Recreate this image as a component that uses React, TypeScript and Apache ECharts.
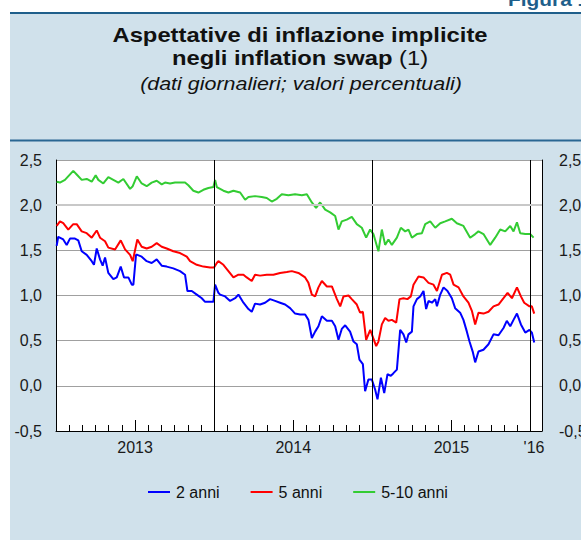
import React, { useEffect, useRef } from "react";
import * as echarts from "echarts";

// x = months elapsed since 1 January 2013
const anni2: [number, number][] = [
  [0.05,1.55],[0.17,1.65],[0.55,1.62],[0.81,1.56],[1.06,1.63],[1.44,1.63],[1.69,1.61],[1.95,1.49],[2.33,1.45],[2.71,1.38],[2.88,1.34],[3.09,1.52],[3.34,1.40],[3.54,1.33],[3.72,1.42],[3.97,1.25],[4.35,1.18],[4.61,1.20],[4.91,1.32],[5.16,1.20],[5.49,1.20],[5.75,1.12],[5.87,1.12],[6.07,1.45],[6.17,1.45],[6.50,1.43],[6.88,1.38],[7.26,1.36],[7.64,1.40],[8.02,1.33],[8.40,1.32],[8.90,1.30],[9.41,1.27],[9.79,1.23],[9.97,1.05],[10.30,1.05],[10.68,1.01],[11.06,0.97],[11.31,0.93],[11.69,0.93],[11.94,0.93],
  [12.07,1.12],[12.32,1.03],[12.45,1.01],[12.83,0.99],[13.21,0.94],[13.59,0.97],[13.84,1.01],[14.22,0.92],[14.60,0.85],[14.85,0.82],[15.10,0.91],[15.48,0.90],[15.86,0.92],[16.24,0.96],[16.62,0.94],[17.00,0.92],[17.38,0.90],[17.76,0.86],[18.14,0.80],[18.52,0.79],[18.90,0.79],[19.15,0.73],[19.41,0.53],[19.66,0.60],[19.91,0.66],[20.17,0.77],[20.55,0.72],[20.93,0.72],[21.18,0.66],[21.43,0.51],[21.68,0.63],[21.94,0.67],[22.31,0.60],[22.57,0.49],[22.82,0.46],[23.02,0.29],[23.28,0.24],[23.45,-0.06],[23.70,0.07],[23.96,0.07],
  [24.21,-0.04],[24.39,-0.15],[24.65,0.09],[24.90,-0.08],[25.15,0.13],[25.40,0.11],[25.60,0.14],[25.86,0.18],[26.11,0.62],[26.36,0.57],[26.57,0.48],[26.74,0.57],[27.00,0.60],[27.12,0.88],[27.38,0.96],[27.63,0.99],[27.88,1.05],[28.08,0.85],[28.26,0.94],[28.52,0.92],[28.77,0.96],[28.90,0.88],[29.15,1.01],[29.40,1.09],[29.70,1.05],[30.03,0.97],[30.28,0.86],[30.66,0.81],[30.91,0.73],[31.17,0.60],[31.37,0.49],[31.63,0.37],[31.80,0.26],[32.05,0.38],[32.43,0.40],[32.81,0.46],[33.19,0.57],[33.57,0.56],[33.95,0.64],[34.20,0.72],[34.46,0.66],[34.71,0.73],[34.97,0.80],[35.27,0.68],[35.60,0.59],[35.92,0.62],[36.10,0.59],[36.28,0.48]
];

const anni5: [number, number][] = [
  [0.05,1.77],[0.30,1.82],[0.55,1.80],[0.93,1.73],[1.31,1.79],[1.57,1.79],[1.95,1.71],[2.33,1.69],[2.71,1.64],[3.09,1.72],[3.34,1.64],[3.72,1.60],[3.97,1.53],[4.48,1.51],[4.91,1.61],[5.24,1.51],[5.62,1.45],[5.82,1.38],[6.17,1.62],[6.50,1.54],[6.88,1.52],[7.26,1.54],[7.64,1.58],[8.02,1.54],[8.40,1.52],[8.90,1.49],[9.41,1.47],[9.92,1.43],[10.17,1.38],[10.68,1.34],[11.18,1.32],[11.69,1.31],[11.99,1.31],
  [12.20,1.36],[12.32,1.38],[12.70,1.34],[13.08,1.27],[13.46,1.20],[13.84,1.23],[14.22,1.23],[14.47,1.20],[14.85,1.16],[15.10,1.23],[15.48,1.22],[15.99,1.23],[16.49,1.23],[17.00,1.25],[17.51,1.26],[17.89,1.27],[18.39,1.25],[18.90,1.20],[19.15,1.14],[19.41,1.01],[19.66,0.99],[19.91,1.09],[20.17,1.16],[20.55,1.10],[20.93,1.10],[21.31,0.96],[21.56,0.88],[21.81,0.99],[22.19,1.00],[22.44,0.96],[22.82,0.90],[23.07,0.81],[23.28,0.82],[23.53,0.51],[23.84,0.62],
  [24.29,0.44],[24.46,0.49],[24.72,0.68],[24.97,0.75],[25.22,0.72],[25.48,0.73],[25.81,0.70],[26.06,0.96],[26.36,0.97],[26.66,0.96],[26.92,0.99],[27.12,1.12],[27.50,1.21],[27.88,1.20],[28.26,1.14],[28.64,1.12],[28.90,1.05],[29.28,1.23],[29.65,1.25],[29.91,1.23],[30.16,1.12],[30.54,1.09],[30.91,0.99],[31.29,0.92],[31.55,0.83],[31.80,0.68],[32.05,0.81],[32.43,0.80],[32.81,0.82],[33.19,0.88],[33.57,0.90],[33.95,0.97],[34.26,1.03],[34.59,0.97],[34.97,1.09],[35.27,0.99],[35.52,0.92],[35.92,0.88],[36.10,0.88],[36.28,0.80]
];

const anni5_10: [number, number][] = [
  [0.05,2.26],[0.30,2.25],[0.68,2.28],[1.31,2.38],[1.57,2.34],[1.95,2.28],[2.33,2.29],[2.71,2.26],[3.01,2.33],[3.21,2.28],[3.59,2.24],[3.97,2.31],[4.35,2.28],[4.73,2.25],[5.11,2.29],[5.62,2.18],[5.82,2.21],[6.13,2.32],[6.50,2.24],[6.88,2.21],[7.26,2.25],[7.64,2.27],[8.02,2.23],[8.27,2.25],[8.65,2.24],[9.03,2.25],[9.41,2.25],[9.79,2.25],[10.04,2.22],[10.42,2.16],[10.80,2.14],[11.18,2.17],[11.56,2.19],[11.94,2.20],
  [12.07,2.28],[12.20,2.20],[12.70,2.16],[13.08,2.14],[13.46,2.16],[13.97,2.14],[14.35,2.06],[14.60,2.09],[15.10,2.10],[15.61,2.09],[15.99,2.08],[16.37,2.04],[16.75,2.07],[17.13,2.12],[17.63,2.11],[18.14,2.12],[18.65,2.11],[19.03,2.12],[19.41,2.03],[19.73,1.97],[20.04,2.03],[20.42,1.95],[20.80,1.92],[21.18,1.88],[21.43,1.73],[21.68,1.82],[22.06,1.84],[22.44,1.87],[22.82,1.79],[23.20,1.75],[23.53,1.64],[23.83,1.73],
  [24.08,1.68],[24.46,1.49],[24.72,1.73],[24.97,1.56],[25.22,1.62],[25.48,1.56],[25.86,1.64],[26.16,1.75],[26.49,1.71],[26.74,1.73],[27.00,1.64],[27.38,1.68],[27.76,1.69],[28.01,1.79],[28.39,1.82],[28.77,1.75],[29.15,1.80],[29.53,1.82],[30.03,1.85],[30.41,1.80],[30.91,1.77],[31.42,1.64],[31.80,1.68],[32.05,1.71],[32.43,1.68],[32.94,1.56],[33.32,1.64],[33.70,1.73],[34.08,1.71],[34.46,1.77],[34.71,1.71],[34.97,1.81],[35.22,1.69],[35.60,1.68],[35.98,1.68],[36.23,1.64]
];

const seriesNames = ["2 anni", "5 anni", "5-10 anni"];
const seriesColors = ["#0000ff", "#ff0000", "#33cc33"];

const yearLabelPositions = [6, 18, 30, 36];
const yearLabels = ["2013", "2014", "2015", "'16"];
const yearBoundaries = [12, 24, 36];

const Y_MIN = -0.5;
const Y_MAX = 2.5;
const Y_STEP = 0.5;
const X_MAX = 36.87;

const FONT = '"Liberation Sans", Arial, Helvetica, sans-serif';
const STRETCH = 1.16;

export default function App() {
  const ref = useRef<HTMLDivElement>(null);

  useEffect(() => {
    if (!ref.current) return;
    const chart = echarts.init(ref.current, undefined, { renderer: "svg" });

    const fmtY = (v: number) => v.toFixed(1).replace(".", ",");
    const fmtX = (v: number) => {
      const i = yearLabelPositions.findIndex((p) => Math.abs(p - v) < 1e-6);
      if (i < 0) return "";
      if (yearLabels[i].startsWith("'")) return "{s|" + yearLabels[i] + "}";
      return yearLabels[i];
    };

    const markData: any[] = yearBoundaries.map((b) => ({
      xAxis: b,
      lineStyle: { color: "#000", width: 1, type: "solid" },
    }));
    markData.push({
      yAxis: 2.0,
      lineStyle: { color: "#c8c8c8", width: 2, type: "solid" },
    });

    const datasets = [anni2, anni5, anni5_10];

    const option: any = {
      animation: false,
      graphic: [
        {
          type: "rect",
          z: -10,
          silent: true,
          shape: { x: 10, y: 14, width: 580, height: 530 },
          style: { fill: "#d0e1eb" },
        },
        {
          type: "rect",
          z: -9,
          silent: true,
          shape: { x: 10, y: 12, width: 580, height: 2 },
          style: { fill: "#1f5f8b" },
        },
        {
          type: "rect",
          z: -9,
          silent: true,
          shape: { x: 10, y: 139.5, width: 580, height: 2 },
          style: { fill: "#2a6793" },
        },
        {
          type: "text",
          x: 508,
          y: -0.3,
          scaleX: STRETCH,
          style: {
            text: "Figura 1",
            fill: "#1f5f8b",
            fontFamily: FONT,
            fontWeight: "bold",
            fontSize: 18,
            align: "left",
            verticalAlign: "middle",
            textAlign: "left",
            textVerticalAlign: "middle",
          },
        },
        {
          type: "text",
          x: 300,
          y: 34.9,
          scaleX: STRETCH,
          style: {
            text: "Aspettative di inflazione implicite",
            fill: "#111",
            fontFamily: FONT,
            fontWeight: "bold",
            fontSize: 20.5,
            align: "center",
            verticalAlign: "middle",
            textAlign: "center",
            textVerticalAlign: "middle",
          },
        },
        {
          type: "text",
          x: 300,
          y: 57.9,
          scaleX: STRETCH,
          style: {
            text: "{b|negli inflation swap}{r| (1)}",
            fill: "#111",
            fontFamily: FONT,
            fontSize: 20.5,
            align: "center",
            verticalAlign: "middle",
            textAlign: "center",
            textVerticalAlign: "middle",
            rich: {
              b: { fontFamily: FONT, fontWeight: "bold", fontSize: 20.5, fill: "#111" },
              r: { fontFamily: FONT, fontWeight: "normal", fontSize: 20.5, fill: "#111" },
            },
          },
        },
        {
          type: "text",
          x: 301,
          y: 83.6,
          scaleX: STRETCH,
          style: {
            text: "(dati giornalieri; valori percentuali)",
            fill: "#111",
            fontFamily: FONT,
            fontStyle: "italic",
            fontSize: 18.5,
            align: "center",
            verticalAlign: "middle",
            textAlign: "center",
            textVerticalAlign: "middle",
          },
        },
      ],
      grid: {
        left: 56,
        right: 39,
        top: 160,
        bottom: 109,
        show: true,
        backgroundColor: "#ffffff",
        borderWidth: 0,
        containLabel: false,
        outerBoundsMode: "none",
      },
      legend: {
        top: 479,
        left: 143,
        icon: "rect",
        itemWidth: 22,
        itemHeight: 2,
        itemGap: 31,
        data: seriesNames,
        textStyle: { fontFamily: FONT, fontSize: 16, color: "#111", padding: [0, 0, 0, 1] },
      },
      xAxis: [
        {
          type: "value",
          min: 0,
          max: X_MAX,
          interval: 1,
          position: "bottom",
          axisLine: { show: true, onZero: false, lineStyle: { color: "#000", width: 1 } },
          axisTick: { show: true, inside: true, length: 6, lineStyle: { color: "#000", width: 1 } },
          axisLabel: { show: false },
          splitLine: { show: false },
        },
        {
          type: "value",
          min: 0,
          max: X_MAX,
          interval: 6,
          position: "bottom",
          offset: 0,
          axisLine: { show: false, onZero: false },
          axisTick: { show: true, inside: true, length: 11, lineStyle: { color: "#000", width: 1 } },
          axisLabel: {
            show: true,
            margin: 8,
            fontFamily: FONT,
            fontSize: 16,
            color: "#1a1a1a",
            formatter: fmtX,
            rich: {
              s: { fontFamily: FONT, fontSize: 16, color: "#1a1a1a", padding: [0, 0, 0, 7] },
            },
          },
          splitLine: { show: false },
        },
      ],
      yAxis: [
        {
          type: "value",
          position: "left",
          min: Y_MIN,
          max: Y_MAX,
          interval: Y_STEP,
          axisLine: { show: true, onZero: false, lineStyle: { color: "#000", width: 1 } },
          axisTick: { show: false },
          axisLabel: { margin: 14, fontFamily: FONT, fontSize: 16, color: "#1a1a1a", formatter: fmtY },
          splitLine: { show: true, lineStyle: { color: "#a0a0a0", width: 1 } },
        },
        {
          type: "value",
          position: "right",
          min: Y_MIN,
          max: Y_MAX,
          interval: Y_STEP,
          axisLine: { show: true, onZero: false, lineStyle: { color: "#000", width: 1 } },
          axisTick: { show: false },
          axisLabel: { margin: 17, fontFamily: FONT, fontSize: 16, color: "#1a1a1a", formatter: fmtY },
          splitLine: { show: false },
        },
      ],
      series: datasets.map((d, i) => ({
        name: seriesNames[i],
        type: "line",
        xAxisIndex: 0,
        yAxisIndex: 0,
        data: d,
        symbol: "none",
        showSymbol: false,
        smooth: false,
        color: seriesColors[i],
        lineStyle: { color: seriesColors[i], width: 2 },
        emphasis: { disabled: true },
        ...(i === 0
          ? {
              markLine: {
                silent: true,
                symbol: ["none", "none"],
                label: { show: false },
                emphasis: { disabled: true },
                data: markData,
              },
            }
          : {}),
      })),
    };

    chart.setOption(option);
    return () => chart.dispose();
  }, []);

  return (
    <div
      ref={ref}
      style={{ position: "absolute", left: 0, top: 0, width: 581, height: 540, background: "#fff" }}
    />
  );
}
